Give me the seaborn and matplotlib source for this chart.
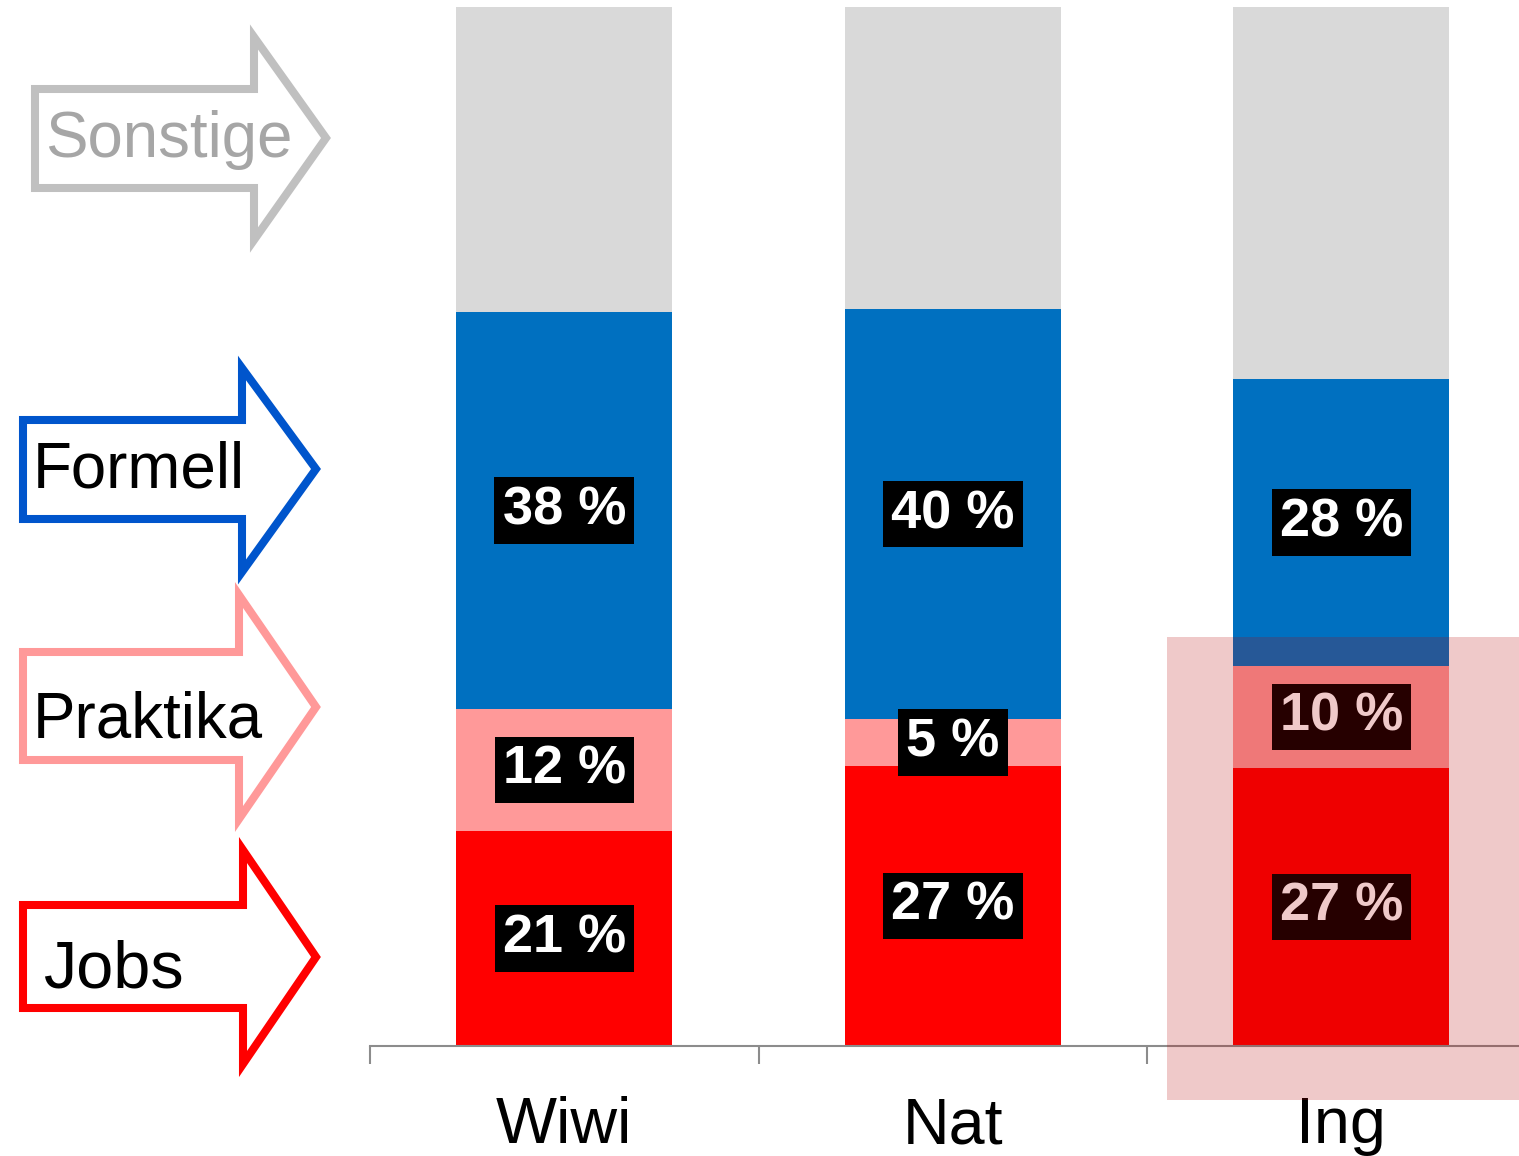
import numpy as np
import matplotlib
matplotlib.use("Agg")
import matplotlib.pyplot as plt
from matplotlib.patches import Polygon, Rectangle
import seaborn as sns

sns.set_style("white")
plt.rcParams['font.family'] = ['Liberation Sans', 'DejaVu Sans']

categories = ["Wiwi", "Nat", "Ing"]
jobs = [20.7, 26.95, 26.76]
praktika = [11.74, 4.52, 9.82]
formell = [38.2, 39.46, 27.62]
sonstige = [29.36, 29.07, 35.8]
# rounded labels as printed on the bars
jobs_lab = [21, 27, 27]
praktika_lab = [12, 5, 10]
formell_lab = [38, 40, 28]

layers = [
    ("Jobs", jobs, jobs_lab, "#ff0000"),
    ("Praktika", praktika, praktika_lab, "#ff9999"),
    ("Formell", formell, formell_lab, "#0070c0"),
    ("Sonstige", sonstige, None, "#d9d9d9"),
]

W, H = 1519, 1156
fig = plt.figure(figsize=(W / 100, H / 100), dpi=100)
ax = fig.add_axes([370 / W, (H - 1046) / H, 1165.5 / W, 1039 / H])

bottom = np.zeros(len(categories))
for name, vals, labs, col in layers:
    sns.barplot(x=categories, y=vals, bottom=bottom, color=col, saturation=1,
                width=0.556, edgecolor="none", linewidth=0, ax=ax)
    if labs is not None:
        for i, v in enumerate(vals):
            ax.text(i, bottom[i] + v / 2, f"{labs[i]} %", ha="center", va="center",
                    color="white", fontsize=39, fontweight="bold",
                    bbox=dict(facecolor="black", edgecolor="none", pad=6))
    bottom = bottom + np.array(vals)

ax.set_xlim(-0.5, 2.5)
ax.set_ylim(0, 100)
ax.set_yticks([])
ax.set_xlabel("")
ax.set_ylabel("")
for s in ["top", "left", "right"]:
    ax.spines[s].set_visible(False)
ax.spines["bottom"].set_color("#8c8c8c")
ax.spines["bottom"].set_linewidth(1.5)
ax.set_xticks(range(len(categories)))
ax.set_xticklabels(categories, fontsize=46.5, color="black")
ax.set_xticks([-0.5, 0.5, 1.5, 2.5], minor=True)
ax.tick_params(axis="x", which="major", length=0, pad=36)
ax.tick_params(axis="x", which="minor", length=13, width=1.5, color="#8c8c8c",
               direction="out", bottom=True)

# highlight box over "Ing"
fig.add_artist(Rectangle((1167 / W, (H - 1100) / H), (W - 1167) / W, (1100 - 637) / H,
                         transform=fig.transFigure, facecolor="#b70000",
                         edgecolor="none", alpha=0.21, zorder=10))


def fx(x):
    return x / W


def fy(y):
    return 1 - y / H


arrows = [
    # label, outline, text colour, left, body top, body bottom, head x, head top, tip x, tip y, head bottom, text x, baseline, size
    ("Sonstige", "#c0c0c0", "#a6a6a6", 35, 89, 188, 254, 37, 326, 138, 240, 45, 157, 45.8),
    ("Formell", "#0055cc", "black", 23, 420, 519, 242, 368, 316, 469, 572, 33, 487, 45.8),
    ("Praktika", "#ff9999", "black", 23, 652, 760, 239, 595, 316, 707, 819, 33, 737, 45.8),
    ("Jobs", "#ff0000", "black", 23, 905, 1008, 243, 850, 316, 957, 1064, 43, 987, 48),
]
for lab, ec, tc, x0, bt, bb, hx, ht, tx, ty, hb, lx, ly, fs in arrows:
    pts = [(x0, bt), (hx, bt), (hx, ht), (tx, ty), (hx, hb), (hx, bb), (x0, bb)]
    fig.add_artist(Polygon([(fx(a), fy(b)) for a, b in pts], closed=True,
                           transform=fig.transFigure, fill=False, edgecolor=ec,
                           linewidth=5.8, joinstyle="miter"))
    fig.text(fx(lx), fy(ly), lab, fontsize=fs, color=tc, va="baseline", ha="left")

fig.savefig("out.png", dpi=100)
